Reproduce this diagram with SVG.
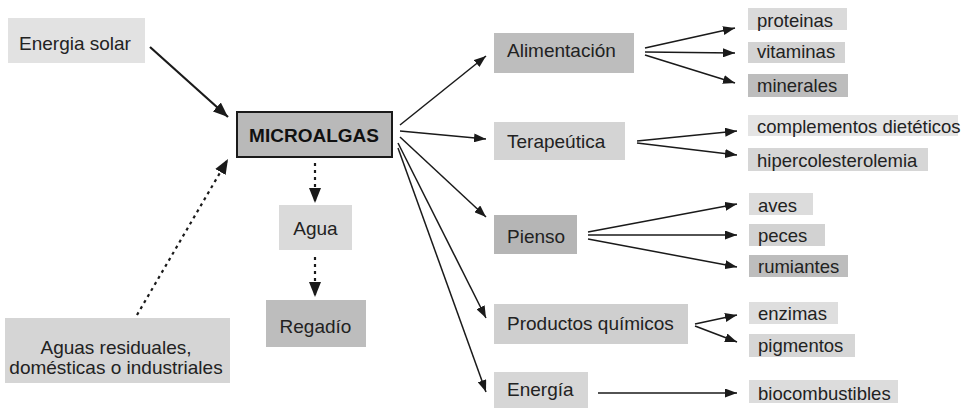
<svg xmlns="http://www.w3.org/2000/svg" width="964" height="409" viewBox="0 0 964 409">
<defs>
<style>
text{font-family:"Liberation Sans",Arial,sans-serif;fill:#222}
.m{font-size:19px}
.s{font-size:18.5px}
.b{font-size:19px;font-weight:bold;fill:#111}
.c{text-anchor:middle}
.ln{stroke:#1a1a1a;stroke-width:1.5;fill:none}
.lt{stroke:#1a1a1a;stroke-width:2.2;fill:none}
.dot{stroke:#1a1a1a;stroke-width:2.2;fill:none;stroke-dasharray:3 4}
.l1{fill:#e0e0e0}.l2{fill:#d5d5d5}.l3{fill:#bcbcbc}
</style>
<marker id="a" markerUnits="userSpaceOnUse" markerWidth="13" markerHeight="9" refX="12" refY="4.5" orient="auto"><path d="M0,0 L12,4.5 L0,9 Z" fill="#1a1a1a"/></marker>
<marker id="ab" markerUnits="userSpaceOnUse" markerWidth="16" markerHeight="12" refX="15" refY="6" orient="auto"><path d="M0,0 L15,6 L0,12 Z" fill="#1a1a1a"/></marker>
</defs>
<rect width="964" height="409" fill="#fff"/>

<g id="connectors">
<line class="lt" x1="150" y1="47" x2="228" y2="117" marker-end="url(#ab)"/>
<line class="dot" x1="137" y1="315" x2="228" y2="159" marker-end="url(#ab)"/>
<line class="dot" x1="315" y1="163" x2="315" y2="203" marker-end="url(#ab)"/>
<line class="dot" x1="315" y1="257" x2="315" y2="297" marker-end="url(#ab)"/>
<line class="ln" x1="400" y1="125" x2="486" y2="56" marker-end="url(#a)"/>
<line class="ln" x1="400" y1="131" x2="486" y2="139" marker-end="url(#a)"/>
<line class="ln" x1="400" y1="137" x2="486" y2="217" marker-end="url(#a)"/>
<line class="ln" x1="398" y1="143" x2="486" y2="318" marker-end="url(#a)"/>
<line class="ln" x1="398" y1="148" x2="486" y2="392" marker-end="url(#a)"/>
<line class="ln" x1="645" y1="48" x2="735" y2="28" marker-end="url(#a)"/>
<line class="ln" x1="645" y1="52" x2="735" y2="53" marker-end="url(#a)"/>
<line class="ln" x1="645" y1="55" x2="735" y2="83" marker-end="url(#a)"/>
<line class="ln" x1="637" y1="141" x2="737" y2="131" marker-end="url(#a)"/>
<line class="ln" x1="637" y1="143" x2="737" y2="155" marker-end="url(#a)"/>
<line class="ln" x1="588" y1="232" x2="737" y2="204" marker-end="url(#a)"/>
<line class="ln" x1="588" y1="235" x2="737" y2="235" marker-end="url(#a)"/>
<line class="ln" x1="588" y1="239" x2="737" y2="267" marker-end="url(#a)"/>
<line class="ln" x1="695" y1="324" x2="737" y2="315" marker-end="url(#a)"/>
<line class="ln" x1="695" y1="326" x2="737" y2="342" marker-end="url(#a)"/>
<line class="ln" x1="598" y1="393" x2="737" y2="393" marker-end="url(#a)"/>
</g>

<g id="energia-solar"><rect x="8" y="18" width="137" height="45" fill="#e2e2e2"/><text class="m" x="19" y="50">Energia solar</text></g>
<g id="aguas-residuales"><rect x="5" y="318" width="225" height="65" fill="#d5d5d5"/><text class="m c" x="116" y="354">Aguas residuales,</text><text class="m c" x="116" y="374">domésticas o industriales</text></g>
<g id="microalgas"><rect x="237" y="112" width="155" height="45" fill="#b9b9b9" stroke="#1a1a1a" stroke-width="2"/><text class="b c" x="314" y="142">MICROALGAS</text></g>
<g id="agua"><rect x="279" y="205" width="73" height="45" fill="#dadada"/><text class="m c" x="315.5" y="235">Agua</text></g>
<g id="regadio"><rect x="266" y="300" width="100" height="47" fill="#bdbdbd"/><text class="m c" x="315.5" y="333">Regadío</text></g>

<g id="alimentacion"><rect x="494" y="33" width="140" height="40" fill="#bdbdbd"/><text class="m" x="507" y="57">Alimentación</text></g>
<g id="terapeutica"><rect x="494" y="122" width="131" height="38" fill="#d4d4d4"/><text class="m" x="507" y="148">Terapeútica</text></g>
<g id="pienso"><rect x="494" y="215" width="83" height="39" fill="#b5b5b5"/><text class="m" x="507" y="243">Pienso</text></g>
<g id="productos-quimicos"><rect x="494" y="304" width="194" height="40" fill="#cfcfcf"/><text class="m" x="507" y="330">Productos químicos</text></g>
<g id="energia"><rect x="494" y="372" width="94" height="36" fill="#d6d6d6"/><text class="m" x="507" y="396">Energía</text></g>

<g id="proteinas"><rect x="748" y="8" width="99" height="22" fill="#dadada"/><text class="s" x="757" y="27">proteinas</text></g>
<g id="vitaminas"><rect x="748" y="42" width="97" height="21" fill="#d3d3d3"/><text class="s" x="757" y="58">vitaminas</text></g>
<g id="minerales"><rect x="748" y="74" width="100" height="23" fill="#bdbdbd"/><text class="s" x="757" y="92">minerales</text></g>
<g id="complementos"><rect x="748" y="115" width="210" height="21" fill="#e4e4e4"/><text class="s" x="757" y="133">complementos dietéticos</text></g>
<g id="hipercolesterolemia"><rect x="748" y="148" width="180" height="23" fill="#d6d6d6"/><text class="s" x="757" y="167">hipercolesterolemia</text></g>
<g id="aves"><rect x="749" y="193" width="64" height="22" fill="#dcdcdc"/><text class="s" x="758" y="212">aves</text></g>
<g id="peces"><rect x="749" y="224" width="76" height="22" fill="#d2d2d2"/><text class="s" x="758" y="242">peces</text></g>
<g id="rumiantes"><rect x="749" y="255" width="99" height="22" fill="#bdbdbd"/><text class="s" x="758" y="273">rumiantes</text></g>
<g id="enzimas"><rect x="749" y="302" width="89" height="22" fill="#dedede"/><text class="s" x="758" y="320">enzimas</text></g>
<g id="pigmentos"><rect x="749" y="334" width="106" height="23" fill="#d6d6d6"/><text class="s" x="758" y="352">pigmentos</text></g>
<g id="biocombustibles"><rect x="749" y="380" width="149" height="23" fill="#dcdcdc"/><text class="s" x="758" y="400">biocombustibles</text></g>
</svg>
